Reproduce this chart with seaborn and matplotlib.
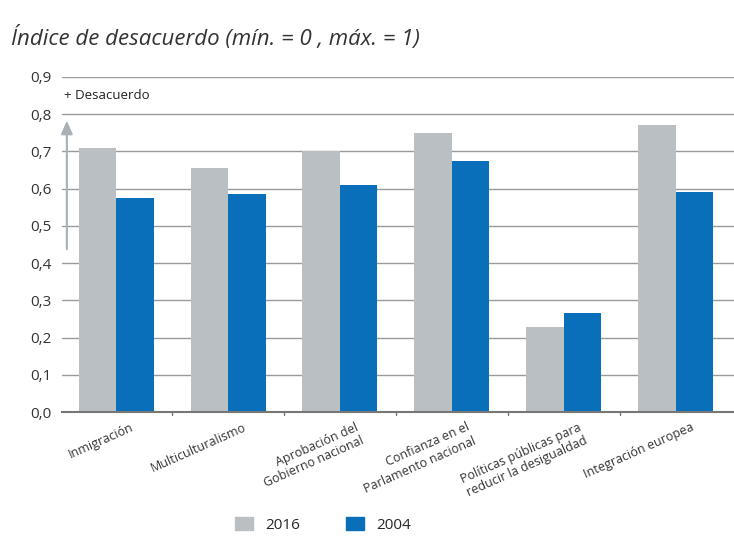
import numpy as np
import pandas as pd
import seaborn as sns
from matplotlib import pyplot as plt
from matplotlib.patches import Patch

categories = ["Inmigración", "Multiculturalismo", "Aprobación del\nGobierno nacional",
              "Confianza en el\nParlamento nacional", "Políticas públicas para\nreducir la desigualdad",
              "Integración europea"]
years = ["2016", "2004"]
values_2016 = [0.71, 0.655, 0.70, 0.75, 0.23, 0.77]
values_2004 = [0.575, 0.585, 0.61, 0.675, 0.265, 0.59]
yticks = [0.0, 0.1, 0.2, 0.3, 0.4, 0.5, 0.6, 0.7, 0.8, 0.9]

df = pd.DataFrame({
    "categoria": categories * 2,
    "valor": values_2016 + values_2004,
    "año": [years[0]] * 6 + [years[1]] * 6,
})

sns.set_style("white")
plt.rcParams['font.family'] = ['Open Sans', 'DejaVu Sans']

fig, ax = plt.subplots(figsize=(7.34, 5.41), dpi=100)
fig.subplots_adjust(left=0.085, right=1.0, top=0.858, bottom=0.238)

for y in yticks[1:]:
    ax.axhline(y, color="#9a9a9a", lw=1.0, zorder=0)

sns.barplot(data=df, x="categoria", y="valor", hue="año", hue_order=years,
            palette=["#b9bfc3", "#0a6fba"], width=0.67, gap=0, saturation=1,
            linewidth=0, ax=ax, zorder=2, legend=False)

ax.set_ylim(0, 0.9)
ax.set_xlim(-0.48, 5.52)
ax.set_yticks(yticks)
ax.set_yticklabels([f"{v:.1f}".replace(".", ",") for v in yticks], fontsize=11, color="#333333")
# labels sit a little right of the group centres, as in the original
ax.set_xticks(np.arange(len(categories)) + 0.13)
ax.set_xticklabels(categories, rotation=24, ha="right", rotation_mode="anchor",
                   fontsize=9, color="#333333")
ax.tick_params(axis="x", length=0, pad=6)
ax.tick_params(axis="y", length=0, pad=8)
# small ticks between groups
for xb in np.arange(0.5, 5.5, 1.0):
    ax.plot([xb, xb], [0, -0.008], color="#777777", lw=1, clip_on=False)
ax.set_xlabel("")
ax.set_ylabel("")
for s in ["top", "right", "left"]:
    ax.spines[s].set_visible(False)
ax.spines["bottom"].set_color("#777777")
ax.spines["bottom"].set_linewidth(1.5)

ax.annotate("", xy=(-0.44, 0.79), xytext=(-0.44, 0.43),
            arrowprops=dict(arrowstyle="-|>,head_width=0.35,head_length=0.8",
                            color="#a9b1b6", lw=1.5), zorder=1)
ax.text(-0.47, 0.85, "+ Desacuerdo", fontsize=9.5, va="center", ha="left", color="#222222")

fig.text(0.015, 0.93, "Índice de desacuerdo (mín. = 0 , máx. = 1)", fontsize=16,
         style="italic", color="#333333", va="center")

# legend
handles = [Patch(color="#b9bfc3"), Patch(color="#0a6fba")]
fig.legend(handles, years, loc="lower center", ncol=2, frameon=False,
           bbox_to_anchor=(0.44, -0.01), fontsize=11, handlelength=1.2, handleheight=1.0,
           columnspacing=3)

plt.savefig("out.png", dpi=100)
plt.close(fig)
